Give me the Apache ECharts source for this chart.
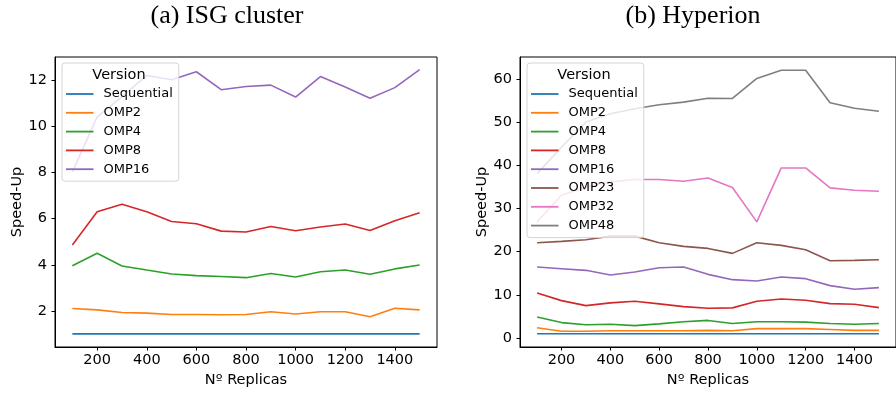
<!DOCTYPE html>
<html>
<head>
<meta charset="utf-8">
<script src="https://cdn.jsdelivr.net/npm/echarts@6.0.0/dist/echarts.min.js"></script>
<style>
html,body{margin:0;padding:0;background:#fff;}
#chart{width:896px;height:394px;}
</style>
</head>
<body>
<div id="chart"></div>
<script>
// ---- data ----
const replicas = [100,200,300,400,500,600,700,800,900,1000,1100,1200,1300,1400,1500];
const xTicks = [200,400,600,800,1000,1200,1400];
const yTicksA = [2,4,6,8,10,12];
const yTicksB = [0,10,20,30,40,50,60];

const versionsA = ['Sequential','OMP2','OMP4','OMP8','OMP16'];
const versionsB = ['Sequential','OMP2','OMP4','OMP8','OMP16','OMP23','OMP32','OMP48'];

// (a) ISG cluster
const isgSequential = [1,1,1,1,1,1,1,1,1,1,1,1,1,1,1];
const isgOMP2  = [2.10,2.04,1.93,1.90,1.84,1.84,1.83,1.84,1.96,1.86,1.96,1.96,1.74,2.11,2.04];
const isgOMP4  = [3.96,4.50,3.95,3.77,3.60,3.53,3.49,3.44,3.62,3.47,3.70,3.77,3.59,3.82,3.99];
const isgOMP8  = [4.86,6.30,6.63,6.30,5.88,5.78,5.46,5.42,5.66,5.48,5.64,5.77,5.49,5.91,6.26];
const isgOMP16 = [8.03,10.42,11.30,12.22,12.03,12.38,11.60,11.74,11.80,11.28,12.17,11.72,11.23,11.69,12.47];

// (b) Hyperion
const hypSequential = [1,1,1,1,1,1,1,1,1,1,1,1,1,1,1];
const hypOMP2  = [2.4,1.6,1.6,1.7,1.7,1.7,1.7,1.8,1.7,2.2,2.2,2.2,2.0,1.8,1.8];
const hypOMP4  = [4.9,3.6,3.1,3.2,2.9,3.3,3.8,4.1,3.4,3.8,3.8,3.7,3.4,3.2,3.4];
const hypOMP8  = [10.45,8.68,7.53,8.15,8.53,7.92,7.30,6.92,7.00,8.53,9.07,8.76,7.99,7.84,7.07];
const hypOMP16 = [16.45,16.07,15.69,14.6,15.3,16.3,16.45,14.76,13.53,13.22,14.14,13.76,12.15,11.3,11.68];
const hypOMP23 = [22.07,22.38,22.76,23.6,23.6,22.07,21.23,20.76,19.61,22.07,21.46,20.45,17.91,17.99,18.14];
const hypOMP32 = [26.9,33.07,34.99,36.15,36.7,36.7,36.3,37.07,34.84,26.9,39.38,39.38,34.76,34.23,34.0];
const hypOMP48 = [38.07,44.2,50.0,51.9,53.07,54.0,54.6,55.5,55.45,60.1,62.0,62.0,54.45,53.2,52.5];

const seriesA = [isgSequential,isgOMP2,isgOMP4,isgOMP8,isgOMP16];
const seriesB = [hypSequential,hypOMP2,hypOMP4,hypOMP8,hypOMP16,hypOMP23,hypOMP32,hypOMP48];

// ---- styling ----
const colors = {
  'Sequential':'#1f77b4','OMP2':'#ff7f0e','OMP4':'#2ca02c','OMP8':'#d62728',
  'OMP16':'#9467bd','OMP23':'#8c564b','OMP32':'#e377c2','OMP48':'#7f7f7f'
};
const FONT = '"DejaVu Sans", sans-serif';

function pairs(vals){ return replicas.map((x,i)=>[x, vals[i]]); }

function xAxisCfg(idx){
  return {
    type:'value', gridIndex:idx, min:30, max:1570,
    splitLine:{show:false},
    axisLine:{show:true, onZero:false, lineStyle:{color:'#000', width:1}},
    axisTick:{show:true, customValues:xTicks, length:3.5, lineStyle:{color:'#000', width:1}},
    axisLabel:{customValues:xTicks, fontSize:14.5, color:'#000', fontFamily:FONT, margin:6,
      formatter:(v)=>String(v)},
    name:'Nº Replicas', nameLocation:'middle', nameGap:25,
    nameTextStyle:{fontSize:14.5, color:'#000', fontFamily:FONT}
  };
}
function yAxisCfg(idx, min, max, ticks){
  return {
    type:'value', gridIndex:idx, min:min, max:max,
    splitLine:{show:false},
    axisLine:{show:true, onZero:false, lineStyle:{color:'#000', width:1}},
    axisTick:{show:true, customValues:ticks, length:3.5, lineStyle:{color:'#000', width:1}},
    axisLabel:{customValues:ticks, fontSize:14.5, color:'#000', fontFamily:FONT, margin:8,
      formatter:(v)=>String(v)},
    name:'Speed-Up', nameLocation:'middle', nameGap:30,
    nameTextStyle:{fontSize:14.5, color:'#000', fontFamily:FONT}
  };
}
function legendCfg(left, names){
  return {
    orient:'vertical', left:left, top:63,
    data:names,
    icon:'rect', itemWidth:27.5, itemHeight:1.8, itemGap:4.8,
    padding:[24,6,5,4],
    backgroundColor:'rgba(255,255,255,0.8)',
    borderColor:'#d4d4d4', borderWidth:1, borderRadius:3,
    textStyle:{fontSize:13, color:'#000', fontFamily:FONT, lineHeight:14, padding:[0,0,0,5]},
    selectedMode:false
  };
}

const series = [];
versionsA.forEach((n,i)=>series.push({
  name:n, type:'line', xAxisIndex:0, yAxisIndex:0, data:pairs(seriesA[i]),
  symbol:'none', showSymbol:false, lineStyle:{width:1.6, color:colors[n]}, itemStyle:{color:colors[n]},
  animation:false, z:2
}));
versionsB.forEach((n,i)=>series.push({
  name:n, type:'line', xAxisIndex:1, yAxisIndex:1, data:pairs(seriesB[i]),
  symbol:'none', showSymbol:false, lineStyle:{width:1.6, color:colors[n]}, itemStyle:{color:colors[n]},
  animation:false, z:2
}));

const chart = echarts.init(document.getElementById('chart'), null, {renderer:'canvas'});
chart.setOption({
  animation:false,
  backgroundColor:'#fff',
  grid:[
    {left:55, top:57, width:382, height:290, show:true, borderColor:'#000', borderWidth:1, backgroundColor:'transparent'},
    {left:520, top:57, width:384, height:290, show:true, borderColor:'#000', borderWidth:1, backgroundColor:'transparent'}
  ],
  xAxis:[xAxisCfg(0), xAxisCfg(1)],
  yAxis:[yAxisCfg(0, 0.43, 13.02, yTicksA), yAxisCfg(1, -2.05, 65.05, yTicksB)],
  legend:[legendCfg(62, versionsA), legendCfg(527, versionsB)],
  series:series,
  graphic:[
    {type:'text', z:100, style:{x:227, y:16, text:'(a) ISG cluster', textAlign:'center', textVerticalAlign:'middle',
      font:'26px "Liberation Serif", serif', fill:'#000'}},
    {type:'text', z:100, style:{x:693, y:16, text:'(b) Hyperion', textAlign:'center', textVerticalAlign:'middle',
      font:'26px "Liberation Serif", serif', fill:'#000'}},
    {type:'text', z:100, style:{x:119, y:75, text:'Version', textAlign:'center', textVerticalAlign:'middle',
      font:'14.5px "DejaVu Sans", sans-serif', fill:'#000'}},
    {type:'text', z:100, style:{x:584, y:75, text:'Version', textAlign:'center', textVerticalAlign:'middle',
      font:'14.5px "DejaVu Sans", sans-serif', fill:'#000'}}
  ]
});
</script>
</body>
</html>
